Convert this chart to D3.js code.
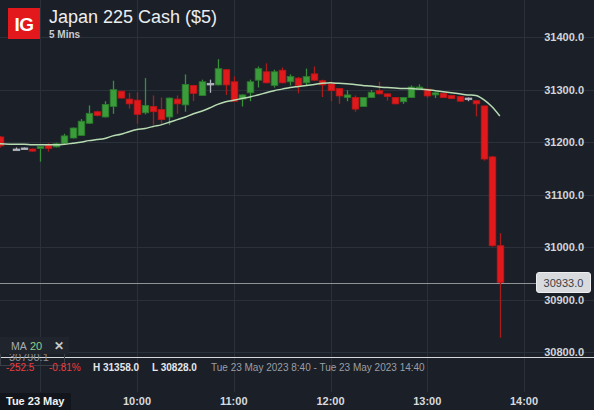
<!DOCTYPE html>
<html>
<head>
<meta charset="utf-8">
<script src="https://cdn.jsdelivr.net/npm/d3@7"></script>
<style>
html,body{margin:0;padding:0;background:#1b2028;}
svg{display:block;font-family:"Liberation Sans",Arial,sans-serif;}
</style>
</head>
<body>
<svg id="c" width="594" height="410"></svg>
<script>
// ---- data ----
const times = ["08:35","08:45","08:50","08:55","09:00","09:05","09:10","09:15","09:20","09:25","09:30","09:35","09:40","09:45","09:50","09:55",
"10:00","10:05","10:10","10:15","10:20","10:25","10:30","10:35","10:40","10:45","10:50","10:55",
"11:00","11:05","11:10","11:15","11:20","11:25","11:30","11:35","11:40","11:45","11:50","11:55",
"12:00","12:05","12:10","12:15","12:20","12:25","12:30","12:35","12:40","12:45","12:50","12:55",
"13:00","13:05","13:10","13:15","13:20","13:25","13:30","13:35","13:40","13:45"];
const open  = [31210,31187,31189,31187,31188,31195,31191,31198,31208,31213,31236,31258,31248,31268,31297,31282,
31280,31256,31268,31262,31248,31282,31271,31308,31289,31312,31309,31338,
31315,31282,31294,31318,31334,31308,31337,31315,31322,31313,31330,31317,
31311,31302,31285,31285,31268,31285,31298,31292,31285,31277,31285,31301,
31301,31290,31293,31289,31287,31284,31279,31269,31172,31003];
const high  = [31212,31190,31190,31188,31192,31198,31199,31216,31228,31244,31270,31260,31278,31317,31298,31294,
31295,31322,31289,31285,31285,31289,31329,31309,31319,31319,31358,31339,
31325,31291,31319,31344,31350,31338,31342,31329,31324,31340,31344,31319,
31315,31303,31299,31289,31286,31299,31315,31293,31286,31286,31308,31310,
31302,31295,31295,31290,31288,31285,31280,31270,31174,31027];
const low   = [31190,31185,31188,31182,31163,31182,31190,31198,31207,31212,31235,31249,31247,31254,31283,31264,
31235,31253,31233,31235,31233,31254,31258,31278,31288,31294,31308,31290,
31277,31268,31278,31304,31312,31304,31312,31308,31293,31308,31317,31286,
31278,31273,31278,31258,31267,31284,31291,31279,31272,31273,31284,31300,
31284,31284,31284,31282,31277,31278,31249,31165,31001,30828];
const close = [31193,31187,31189,31183,31192,31188,31197,31212,31227,31240,31255,31251,31272,31300,31284,31273,
31253,31270,31258,31243,31284,31273,31310,31293,31315,31312,31340,31309,
31278,31290,31315,31340,31313,31334,31313,31325,31308,31325,31318,31309,
31298,31288,31290,31263,31285,31295,31292,31287,31273,31285,31305,31305,
31288,31294,31285,31283,31278,31284,31273,31168,31003,30933];
const ma20  = [31197,31196,31196,31195,31195,31195,31195,31196,31198,31200,31203,31205,31207,31212,31215,31220,
31224,31226,31230,31233,31238,31243,31248,31254,31259,31265,31272,31277,
31280,31283,31286,31290,31294,31298,31301,31304,31306,31308,31310,31312,
31313,31312,31311,31310,31308,31307,31305,31304,31303,31302,31302,31301,
31300,31298,31296,31294,31292,31290,31289,31281,31268,31250];
const yTicks = [31400,31300,31200,31100,31000,30900,30800];
const xTicks = ["09:00","10:00","11:00","12:00","13:00","14:00"];
const xTickLabels = ["Tue 23 May","10:00","11:00","12:00","13:00","14:00"];
const lastPrice = 30933;
const hoverPrice = 30790.1;
const title = "Japan 225 Cash ($5)";
const interval = "5 Mins";
const change = "-252.5", changePct = "-0.81%", hiTxt = "H 31358.0", loTxt = "L 30828.0";
const rangeTxt = "Tue 23 May 2023 8:40 - Tue 23 May 2023 14:40";

// ---- setup ----
const W = 594, H = 410;
const svg = d3.select("#c");
const toDate = s => { const [h,m] = s.split(":").map(Number); return new Date(2023,4,23,h,m); };
const x = d3.scaleTime().domain([toDate("09:00"), toDate("14:00")]).range([40.25, 524]);
const y = d3.scaleLinear().domain([30800, 31400]).range([352.4, 37.1]);
const data = times.map((t,i)=>({t:toDate(t),o:open[i],h:high[i],l:low[i],c:close[i],ma:ma20[i]}));

svg.append("rect").attr("width",W).attr("height",H).attr("fill","#1b2028");

// grid
const grid = svg.append("g").attr("stroke","#2b313a").attr("stroke-width",1);
grid.selectAll("line.h").data(yTicks).join("line")
  .attr("x1",0).attr("x2",W).attr("y1",d=>Math.round(y(d))+0.5).attr("y2",d=>Math.round(y(d))+0.5);
grid.selectAll("line.v").data(xTicks).join("line")
  .attr("y1",0).attr("y2",392).attr("x1",d=>Math.round(x(toDate(d)))+0.5).attr("x2",d=>Math.round(x(toDate(d)))+0.5);

// last price line
svg.append("line").attr("x1",0).attr("x2",536).attr("y1",Math.round(y(lastPrice))+0.5).attr("y2",Math.round(y(lastPrice))+0.5)
  .attr("stroke","#8e9196").attr("stroke-width",1);

// candles
const bw = 6.6;
const colorOf = d => d.c > d.o ? "up" : (d.c < d.o ? "down" : "flat");
const pal = {up:{fill:"#3b9c3b",stroke:"#2c7a2c",wick:"#3a8f3a"},
             down:{fill:"#e01a1c",stroke:"#bb1618",wick:"#a81c1c"},
             flat:{fill:"#b3b7bf",stroke:"#b3b7bf",wick:"#b3b7bf"}};
const cg = svg.append("g");
const c = cg.selectAll("g").data(data).join("g");
c.append("line")
  .attr("x1",d=>Math.round(x(d.t))+0.5).attr("x2",d=>Math.round(x(d.t))+0.5)
  .attr("y1",d=>y(d.h)).attr("y2",d=>y(d.l))
  .attr("stroke",d=>pal[colorOf(d)].wick).attr("stroke-width",1.3);
c.append("rect")
  .attr("x",d=>Math.round(x(d.t))+0.5-bw/2)
  .attr("y",d=>y(Math.max(d.o,d.c)))
  .attr("width",bw)
  .attr("height",d=>Math.max(1.6,Math.abs(y(d.o)-y(d.c))))
  .attr("fill",d=>pal[colorOf(d)].fill)
  .attr("stroke",d=>pal[colorOf(d)].stroke).attr("stroke-width",0.8);

// MA line
svg.append("path").datum(data)
  .attr("d",d3.line().x(d=>x(d.t)).y(d=>y(d.ma)).curve(d3.curveMonotoneX))
  .attr("fill","none").attr("stroke","#b7dcb2").attr("stroke-width",1.5);

// bottom white separator line
svg.append("line").attr("x1",0).attr("x2",W).attr("y1",357.5).attr("y2",357.5)
  .attr("stroke","#d6d8dc").attr("stroke-width",1);

// y labels
svg.append("g").selectAll("text").data(yTicks).join("text")
  .attr("x",584).attr("y",d=>y(d)+4).attr("text-anchor","end")
  .attr("font-size",11).attr("font-weight","bold").attr("fill","#d2d4d8")
  .text(d=>d3.format(".1f")(d));

// last price box
const lp = y(lastPrice);
svg.append("rect").attr("x",536.5).attr("y",lp-10).attr("width",54).attr("height",20).attr("rx",2.5)
  .attr("fill","#d8dade").attr("stroke","#eceef0").attr("stroke-width",1);
svg.append("text").attr("x",563.5).attr("y",lp+4).attr("text-anchor","middle")
  .attr("font-size",11).attr("fill","#3a3d44").text(d3.format(".1f")(lastPrice));

// x labels
const xl = svg.append("g");
xl.append("rect").attr("x",0).attr("y",393).attr("width",71).attr("height",17).attr("fill","#12161c");
xl.selectAll("text").data(xTicks).join("text")
  .attr("x",(d,i)=> i===0 ? 6 : x(toDate(d)))
  .attr("y",405).attr("text-anchor",(d,i)=> i===0 ? "start":"middle")
  .attr("font-size",11).attr("font-weight","bold").attr("fill",(d,i)=>i===0?"#f2f2f2":"#d8dade")
  .text((d,i)=>xTickLabels[i]);

// header
svg.append("rect").attr("x",8).attr("y",8).attr("width",32).attr("height",31).attr("fill","#e3181c");
svg.append("text").attr("x",24).attr("y",31).attr("text-anchor","middle").attr("font-size",19)
  .attr("font-weight","bold").attr("fill","#ffffff").attr("letter-spacing",-0.5).text("IG");
svg.append("text").attr("x",49).attr("y",23).attr("font-size",18).attr("fill","#eceef0").text(title);
svg.append("text").attr("x",49).attr("y",37.5).attr("font-size",10).attr("font-weight","bold").attr("fill","#c9ccd1").text(interval);

// hover price + MA box
svg.append("rect").attr("x",0.5).attr("y",346.5).attr("width",64).attr("height",19).attr("fill","none").attr("stroke","#3a3f47");
svg.append("text").attr("x",9).attr("y",361).attr("font-size",11).attr("fill","#8a8e95").text(d3.format(".1f")(hoverPrice));
svg.append("rect").attr("x",0).attr("y",337).attr("width",69).attr("height",17).attr("fill","#20252d");
svg.append("text").attr("x",11).attr("y",350).attr("font-size",10.5).attr("fill","#a9adb3").text("MA");
svg.append("text").attr("x",30).attr("y",350).attr("font-size",11).attr("fill","#8fcf8a").text("20");
svg.append("text").attr("x",54).attr("y",350).attr("font-size",12).attr("font-weight","bold").attr("fill","#c8cbd0").text("\u2715");

// info line
const info = svg.append("g").attr("font-size",10);
info.append("text").attr("x",6).attr("y",370.5).attr("fill","#ef3b3e").text(change);
info.append("text").attr("x",49).attr("y",370.5).attr("fill","#ef3b3e").text(changePct);
info.append("text").attr("x",93).attr("y",370.5).attr("font-weight","bold").attr("fill","#e6e7ea").text(hiTxt);
info.append("text").attr("x",152).attr("y",370.5).attr("font-weight","bold").attr("fill","#e6e7ea").text(loTxt);
info.append("text").attr("x",211).attr("y",370.5).attr("fill","#9a9ea5").text(rangeTxt);
</script>
</body>
</html>
